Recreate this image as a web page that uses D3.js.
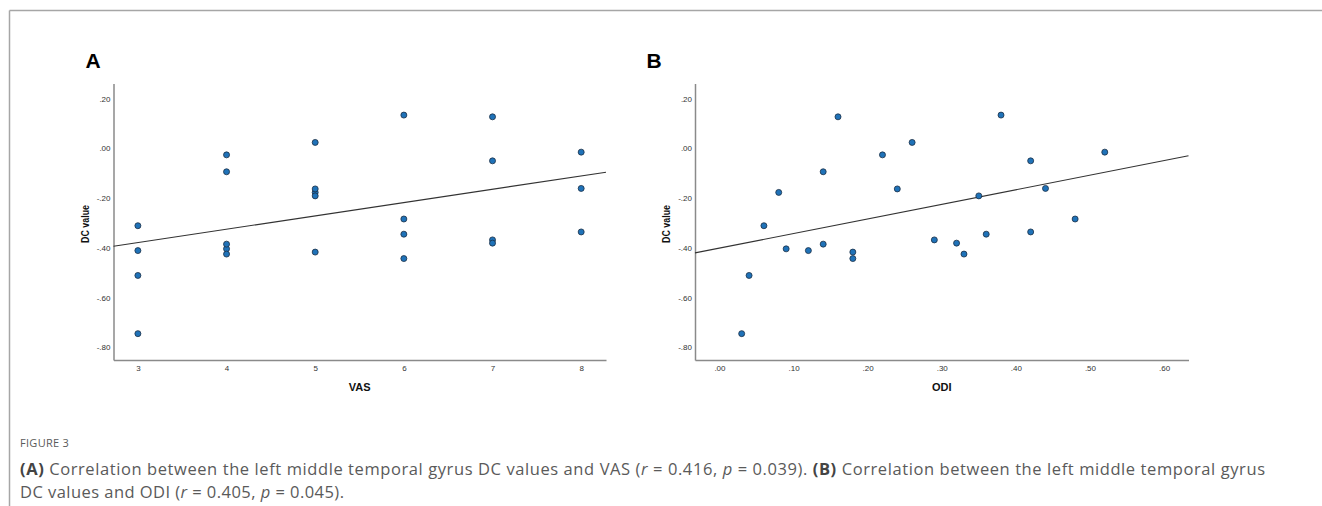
<!DOCTYPE html>
<html>
<head>
    <meta charset="utf-8">
    <title>Figure 3 - DC value correlations</title>
    <script src="https://cdn.jsdelivr.net/npm/d3@7"></script>
    <style>
        body { margin: 0; background: #fff; }
        .tick_label { font-family: "Liberation Sans", Arial, sans-serif; font-size: 8px; fill: #333; }
        .axis_title { font-family: "Liberation Sans", Arial, sans-serif; font-size: 11px; font-weight: bold; fill: #111; }
        .panel_letter { font-family: "Liberation Sans", Arial, sans-serif; font-size: 21px; font-weight: bold; fill: #000; }
        .caption { font-family: "Open Sans", sans-serif; fill: #5a5a5a; }
    </style>
</head>
<body>
<div id="svg_container"></div>
<script>
    const width = 1322;
    const height = 506;

    // one entry per subject, same order in every array
    const dcValues  = [-0.745, -0.511, -0.311, -0.177, -0.404, -0.411, -0.094, -0.385, 0.127, -0.417,
                       -0.443, -0.026, -0.163, 0.024, -0.368, -0.381, -0.425, -0.191, -0.345, 0.134,
                       -0.050, -0.336, -0.161, -0.284, -0.015];
    const vasScores = [3, 3, 3, 5, 4, 3, 4, 4, 7, 5,
                       6, 4, 5, 5, 7, 7, 4, 5, 6, 6,
                       7, 8, 8, 6, 8];
    const odiScores = [0.03, 0.04, 0.06, 0.08, 0.09, 0.12, 0.14, 0.14, 0.16, 0.18,
                       0.18, 0.22, 0.24, 0.26, 0.29, 0.32, 0.33, 0.35, 0.36, 0.38,
                       0.42, 0.42, 0.44, 0.48, 0.52];

    const yTicks   = [0.2, 0, -0.2, -0.4, -0.6, -0.8];
    const vasTicks = [3, 4, 5, 6, 7, 8];
    const odiTicks = [0, 0.1, 0.2, 0.3, 0.4, 0.5, 0.6];

    const panels = [
        { letter: "A", xs: vasScores, ticks: vasTicks, xTitle: "VAS", xDomain: [2.725, 8.28],
          left: 113.5, right: 606, letterX: 93, fmt: d => String(d) },
        { letter: "B", xs: odiScores, ticks: odiTicks, xTitle: "ODI", xDomain: [-0.033, 0.633],
          left: 695, right: 1188.5, letterX: 654, fmt: spssFormat }
    ];

    const plotTop = 83.5;
    const plotBottom = 360;
    const yDomain = [-0.851, 0.261];

    function spssFormat(v) {
        const s = Math.abs(v).toFixed(2).replace(/^0/, "");
        return (v < 0 ? "-" : "") + s;
    }

    function fitLine(xs, ys) {
        const mx = d3.mean(xs), my = d3.mean(ys);
        let sxy = 0, sxx = 0;
        xs.forEach((x, i) => { sxy += (x - mx) * (ys[i] - my); sxx += (x - mx) * (x - mx); });
        const slope = sxy / sxx;
        return x => my + slope * (x - mx);
    }

    const svg = d3.select("#svg_container")
        .append("svg")
        .attr("width", width)
        .attr("height", height);

    svg.append("rect").attr("width", width).attr("height", height).attr("fill", "#fff");

    // frame lines of the figure box
    svg.append("line").attr("x1", 9.5).attr("y1", 10.5).attr("x2", width).attr("y2", 10.5)
        .attr("stroke", "#a6a6a6").attr("stroke-width", 1.5);
    svg.append("line").attr("x1", 9.5).attr("y1", 10.5).attr("x2", 9.5).attr("y2", height)
        .attr("stroke", "#a6a6a6").attr("stroke-width", 1.5);

    panels.forEach(p => {
        const x = d3.scaleLinear().domain(p.xDomain).range([p.left, p.right]);
        const y = d3.scaleLinear().domain(yDomain).range([plotBottom, plotTop]);
        const g = svg.append("g");

        g.append("text").attr("class", "panel_letter")
            .attr("x", p.letterX).attr("y", 60).attr("text-anchor", "middle")
            .attr("dominant-baseline", "central").text(p.letter);

        // axes without tick marks, SPSS style
        const yAxis = g.append("g").attr("transform", `translate(${p.left},0)`)
            .call(d3.axisLeft(y).tickValues(yTicks).tickSize(0).tickPadding(3).tickFormat(spssFormat));
        const xAxis = g.append("g").attr("transform", `translate(0,${plotBottom})`)
            .call(d3.axisBottom(x).tickValues(p.ticks).tickSize(0).tickPadding(5).tickFormat(p.fmt));
        [yAxis, xAxis].forEach(a => {
            a.select(".domain").attr("stroke", "#8a8a8a").attr("stroke-width", 1.5);
            a.selectAll("text").attr("class", "tick_label").attr("fill", null)
                .attr("font-size", null).attr("font-family", null);
        });

        g.append("text").attr("class", "axis_title")
            .attr("x", (p.left + p.right) / 2).attr("y", 391).attr("text-anchor", "middle")
            .text(p.xTitle);
        g.append("text").attr("class", "axis_title")
            .attr("transform", `translate(${p.left - 25},224) rotate(-90)`)
            .attr("text-anchor", "middle")
            .attr("textLength", 38).attr("lengthAdjust", "spacingAndGlyphs")
            .text("DC value");

        // fit line
        const f = fitLine(p.xs, dcValues);
        g.append("line")
            .attr("x1", x(p.xDomain[0])).attr("y1", y(f(p.xDomain[0])))
            .attr("x2", x(p.xDomain[1])).attr("y2", y(f(p.xDomain[1])))
            .attr("stroke", "#333").attr("stroke-width", 1.1);

        g.selectAll("circle.pt")
            .data(p.xs.map((v, i) => [v, dcValues[i]]))
            .enter()
            .append("circle")
            .attr("class", "pt")
            .attr("cx", d => x(d[0]))
            .attr("cy", d => y(d[1]))
            .attr("r", 3)
            .attr("fill", "#1f72b8")
            .attr("stroke", "#1b2f45")
            .attr("stroke-width", 0.8);
    });

    // caption
    const capX = 20;
    svg.append("text").attr("class", "caption").attr("x", capX).attr("y", 447)
        .attr("font-size", 11).attr("letter-spacing", 0.3).text("FIGURE 3");

    const line1 = svg.append("text").attr("class", "caption").attr("x", capX).attr("y", 475)
        .attr("font-size", 16.5).attr("textLength", 1245).attr("lengthAdjust", "spacing");
    const line2 = svg.append("text").attr("class", "caption").attr("x", capX).attr("y", 498)
        .attr("font-size", 16.5).attr("letter-spacing", 0.45);

    const captionRuns1 = [
        ["(A)", "b"], [" Correlation between the left middle temporal gyrus DC values and VAS (", ""],
        ["r", "i"], [" = 0.416, ", ""], ["p", "i"], [" = 0.039). ", ""], ["(B)", "b"],
        [" Correlation between the left middle temporal gyrus", ""]
    ];
    const captionRuns2 = [
        ["DC values and ODI (", ""], ["r", "i"], [" = 0.405, ", ""], ["p", "i"], [" = 0.045).", ""]
    ];
    [[line1, captionRuns1], [line2, captionRuns2]].forEach(([t, runs]) => {
        runs.forEach(([s, st]) => {
            t.append("tspan")
                .attr("font-weight", st === "b" ? 700 : 400)
                .attr("font-style", st === "i" ? "italic" : "normal")
                .attr("fill", st === "b" ? "#444" : null)
                .text(s);
        });
    });
</script>
</body>
</html>
